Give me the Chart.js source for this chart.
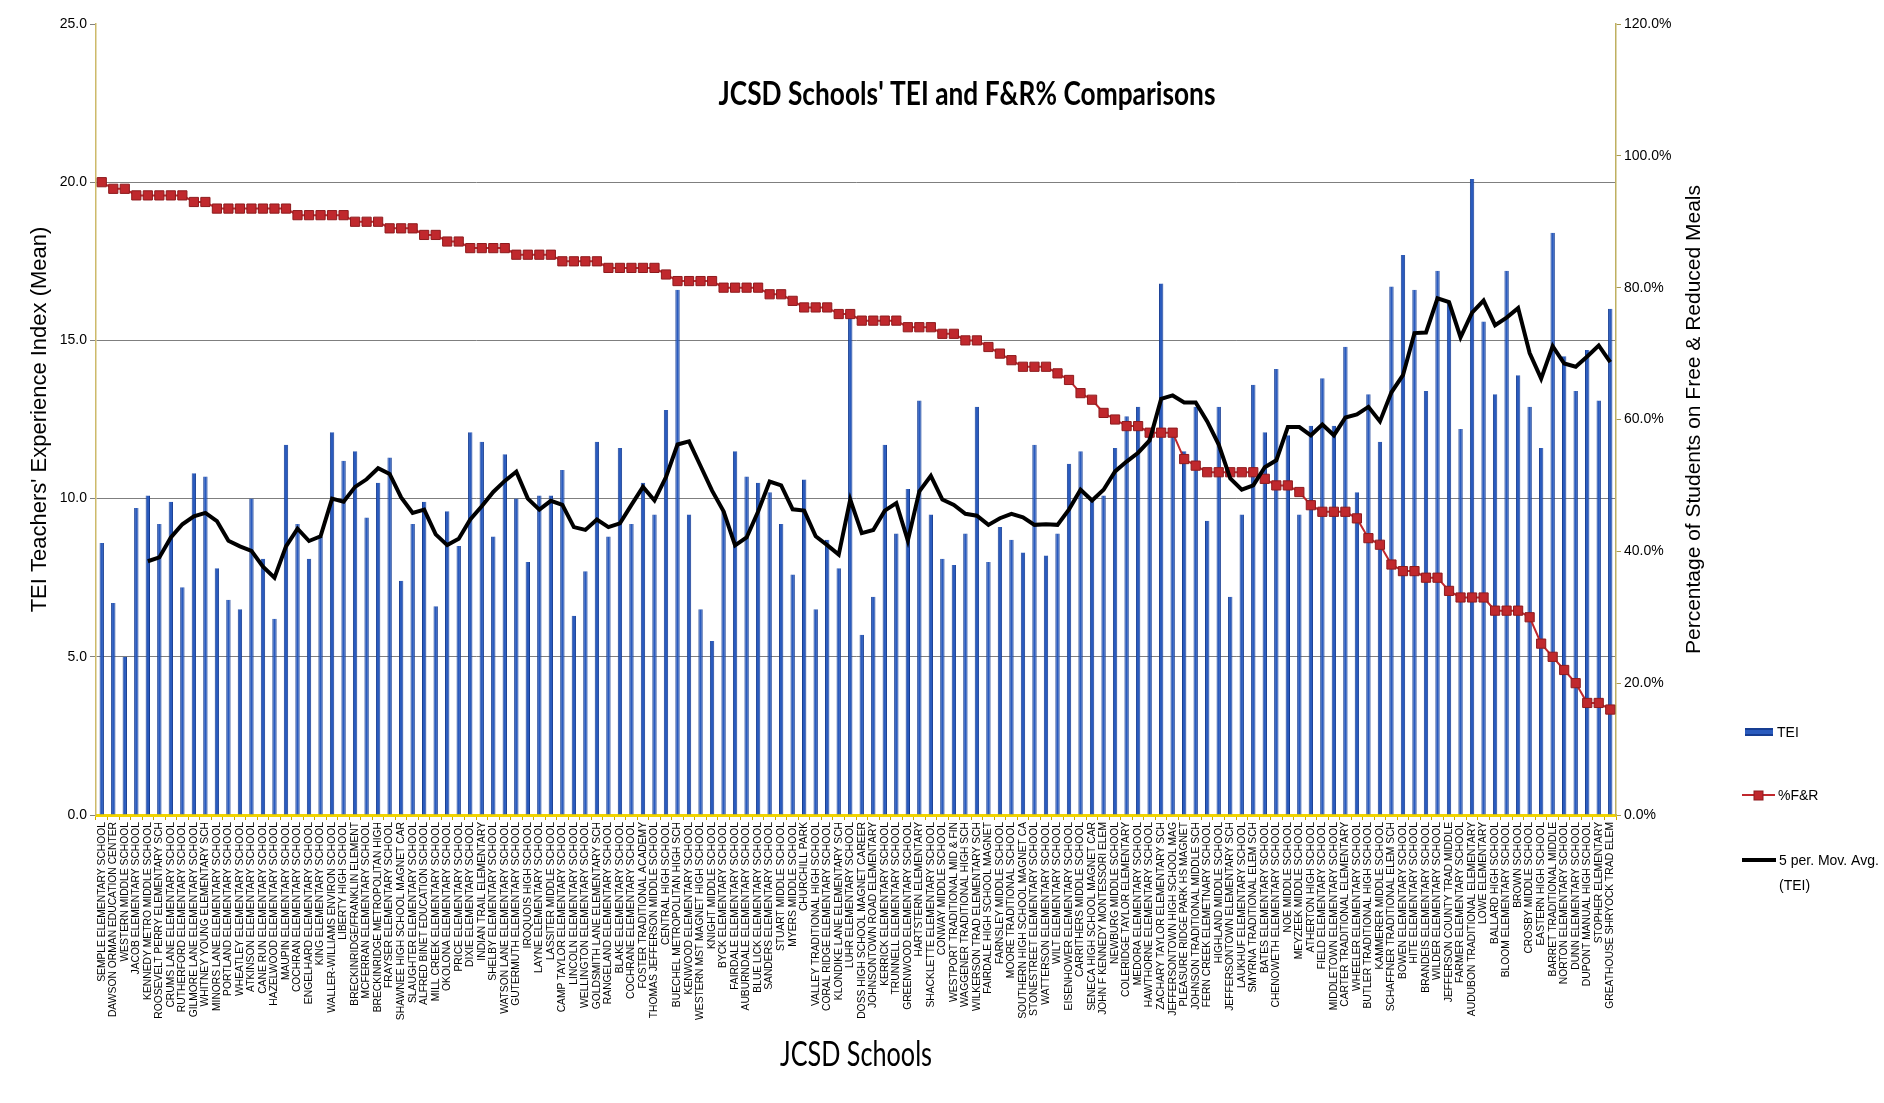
<!DOCTYPE html>
<html><head><meta charset="utf-8">
<script src="https://cdn.jsdelivr.net/npm/chart.js@4.4.1/dist/chart.umd.min.js"></script>
<style>html,body{margin:0;padding:0;background:#fff;}#c{display:block;}</style>
</head><body>
<canvas id="c" width="1884" height="1103" style="width:1884px;height:1103px"></canvas>
<script>
const chartTitle = "JCSD Schools' TEI and F&R% Comparisons";
const xAxisTitle = "JCSD Schools";
const leftAxisTitle = "TEI Teachers' Experience Index (Mean)";
const rightAxisTitle = "Percentage of Students on Free & Reduced Meals";
const seriesNames = ["TEI", "%F&R", "5 per. Mov. Avg.", "(TEI)"];

const schools = [
"SEMPLE ELEMENTARY SCHOOL","DAWSON ORMAN EDUCATION CENTER","WESTERN MIDDLE SCHOOL","JACOB ELEMENTARY SCHOOL",
"KENNEDY METRO MIDDLE SCHOOL","ROOSEVELT PERRY ELEMENTARY SCH","CRUMS LANE ELEMENTARY SCHOOL","RUTHERFORD ELEMENTARY SCHOOL",
"GILMORE LANE ELEMENTARY SCHOOL","WHITNEY YOUNG ELEMENTARY SCH","MINORS LANE ELEMENTARY SCHOOL","PORTLAND ELEMENTARY SCHOOL",
"WHEATLEY ELEMENTARY SCHOOL","ATKINSON ELEMENTARY SCHOOL","CANE RUN ELEMENTARY SCHOOL","HAZELWOOD ELEMENTARY SCHOOL",
"MAUPIN ELEMENTARY SCHOOL","COCHRAN ELEMENTARY SCHOOL","ENGELHARD ELEMENTARY SCHOOL","KING ELEMENTARY SCHOOL",
"WALLER-WILLIAMS ENVIRON SCHOOL","LIBERTY HIGH SCHOOL","BRECKINRIDGE/FRANKLIN ELEMENT","MCFERRAN ELEMENTARY SCHOOL",
"BRECKINRIDGE METROPOLITAN HIGH","FRAYSER ELEMENTARY SCHOOL","SHAWNEE HIGH SCHOOL MAGNET CAR","SLAUGHTER ELEMENTARY SCHOOL",
"ALFRED BINET EDUCATION SCHOOL","MILL CREEK ELEMENTARY SCHOOL","OKOLONA ELEMENTARY SCHOOL","PRICE ELEMENTARY SCHOOL",
"DIXIE ELEMENTARY SCHOOL","INDIAN TRAIL ELEMENTARY","SHELBY ELEMENTARY SCHOOL","WATSON LANE ELEMENTARY SCHOOL",
"GUTERMUTH ELEMENTARY SCHOOL","IROQUOIS HIGH SCHOOL","LAYNE ELEMENTARY SCHOOL","LASSITER MIDDLE SCHOOL",
"CAMP TAYLOR ELEMENTARY SCHOOL","LINCOLN ELEMENTARY SCHOOL","WELLINGTON ELEMENTARY SCHOOL","GOLDSMITH LANE ELEMENTARY SCH",
"RANGELAND ELEMENTARY SCHOOL","BLAKE ELEMENTARY SCHOOL","COCHRANE ELEMENTARY SCHOOL","FOSTER TRADITIONAL ACADEMY",
"THOMAS JEFFERSON MIDDLE SCHOOL","CENTRAL HIGH SCHOOL","BUECHEL METROPOLITAN HIGH SCH","KENWOOD ELEMENTARY SCHOOL",
"WESTERN MST MAGNET HIGH SCHOOL","KNIGHT MIDDLE SCHOOL","BYCK ELEMENTARY SCHOOL","FAIRDALE ELEMENTARY SCHOOL",
"AUBURNDALE ELEMENTARY SCHOOL","BLUE LICK ELEMENTARY SCHOOL","SANDERS ELEMENTARY SCHOOL","STUART MIDDLE SCHOOL",
"MYERS MIDDLE SCHOOL","CHURCHILL PARK","VALLEY TRADITIONAL HIGH SCHOOL","CORAL RIDGE ELEMENTARY SCHOOL",
"KLONDIKE LANE ELEMENTARY SCH","LUHR ELEMENTARY SCHOOL","DOSS HIGH SCHOOL MAGNET CAREER","JOHNSONTOWN ROAD ELEMENTARY",
"KERRICK ELEMENTARY SCHOOL","TRUNNELL ELEMENTARY SCHOOL","GREENWOOD ELEMENTARY SCHOOL","HARTSTERN ELEMENTARY",
"SHACKLETTE ELEMENTARY SCHOOL","CONWAY MIDDLE SCHOOL","WESTPORT TRADITIONAL MID & FIN","WAGGENER TRADITIONAL HIGH SCH",
"WILKERSON TRAD ELEMENTARY SCH","FAIRDALE HIGH SCHOOL MAGNET","FARNSLEY MIDDLE SCHOOL","MOORE TRADITIONAL SCHOOL",
"SOUTHERN HIGH SCHOOL MAGNET CA","STONESTREET ELEMENTARY SCHOOL","WATTERSON ELEMENTARY SCHOOL","WILT ELEMENTARY SCHOOL",
"EISENHOWER ELEMENTARY SCHOOL","CARRITHERS MIDDLE SCHOOL","SENECA HIGH SCHOOL MAGNET CAR","JOHN F KENNEDY MONTESSORI ELEM",
"NEWBURG MIDDLE SCHOOL","COLERIDGE TAYLOR ELEMENTARY","MEDORA ELEMENTARY SCHOOL","HAWTHORNE ELEMENTARY SCHOOL",
"ZACHARY TAYLOR ELEMENTARY SCH","JEFFERSONTOWN HIGH SCHOOL MAG","PLEASURE RIDGE PARK HS MAGNET","JOHNSON TRADITIONAL MIDDLE SCH",
"FERN CREEK ELEMETNARY SCHOOL","HIGHLAND MIDDLE SCHOOL","JEFFERSONTOWN ELEMENTARY SCH","LAUKHUF ELEMENTARY SCHOOL",
"SMYRNA TRADITIONAL ELEM SCH","BATES ELEMENTARY SCHOOL","CHENOWETH ELEMENTARY SCHOOL","NOE MIDDLE SCHOOL",
"MEYZEEK MIDDLE SCHOOL","ATHERTON HIGH SCHOOL","FIELD ELEMENTARY SCHOOL","MIDDLETOWN ELEMENTARY SCHOOL",
"CARTER TRADITIONAL ELEMENTARY","WHEELER ELEMENTARY SCHOOL","BUTLER TRADITIONAL HIGH SCHOOL","KAMMERER MIDDLE SCHOOL",
"SCHAFFNER TRADITIONAL ELEM SCH","BOWEN ELEMENTARY SCHOOL","HITE ELEMENTARY SCHOOL","BRANDEIS ELEMENTARY SCHOOL",
"WILDER ELEMENTARY SCHOOL","JEFFERSON COUNTY TRAD MIDDLE","FARMER ELEMENTARY SCHOOL","AUDUBON TRADITIONAL ELEMENTARY",
"LOWE ELEMENTARY","BALLARD HIGH SCHOOL","BLOOM ELEMENTARY SCHOOL","BROWN SCHOOL",
"CROSBY MIDDLE SCHOOL","EASTERN HIGH SCHOOL","BARRET TRADITIONAL MIDDLE","NORTON ELEMENTARY SCHOOL",
"DUNN ELEMENTARY SCHOOL","DUPONT MANUAL HIGH SCHOOL","STOPHER ELEMENTARY","GREATHOUSE SHRYOCK TRAD ELEM"
];

const teiValues = [
8.6,6.7,5.0,9.7,10.1,9.2,9.9,7.2,10.8,10.7,7.8,6.8,6.5,10.0,8.1,6.2,11.7,9.2,8.1,8.8,12.1,11.2,
11.5,9.4,10.5,11.3,7.4,9.2,9.9,6.6,9.6,8.5,12.1,11.8,8.8,11.4,10.0,8.0,10.1,10.1,10.9,6.3,7.7,11.8,
8.8,11.6,9.2,10.5,9.5,12.8,16.6,9.5,6.5,5.5,9.6,11.5,10.7,10.5,10.2,9.2,7.6,10.6,6.5,8.7,7.8,15.9,
5.7,6.9,11.7,8.9,10.3,13.1,9.5,8.1,7.9,8.9,12.9,8.0,9.1,8.7,8.3,11.7,8.2,8.9,11.1,11.5,10.0,
10.1,11.6,12.6,12.9,12.0,16.8,12.0,11.5,12.9,9.3,12.9,6.9,9.5,13.6,12.1,14.1,12.0,9.5,12.3,13.8,12.3,14.8,
10.2,13.3,11.8,16.7,17.7,16.6,13.4,17.2,16.2,12.2,20.1,15.6,13.3,17.2,13.9,12.9,11.6,18.4,14.5,13.4,14.7,13.1,16.0
];

const frPercent = [
96,95,95,94,94,94,94,94,93,93,92,92,92,92,92,92,92,91,91,91,91,91,
90,90,90,89,89,89,88,88,87,87,86,86,86,86,85,85,85,85,84,84,84,84,
83,83,83,83,83,82,81,81,81,81,80,80,80,80,79,79,78,77,77,77,76,76,
75,75,75,75,74,74,74,73,73,72,72,71,70,69,68,68,68,67,66,64,63,
61,60,59,59,58,58,58,54,53,52,52,52,52,52,51,50,50,49,47,46,46,46,
45,42,41,38,37,37,36,36,34,33,33,33,31,31,31,30,26,24,22,20,17,17,16
];

const movingAvgTEI = [
null,null,null,null,8.02,8.14,8.77,9.19,9.44,9.55,9.29,8.67,8.49,8.35,7.85,7.50,8.49,9.05,8.66,8.81,10.0,9.9,
10.37,10.61,10.96,10.78,10.04,9.55,9.65,8.87,8.53,8.73,9.34,9.76,10.21,10.56,10.85,10.0,9.65,9.93,9.8,9.1,9.01,9.34,
9.1,9.22,9.8,10.37,9.94,10.68,11.71,11.81,11.03,10.25,9.6,8.52,8.77,9.59,10.54,10.42,9.66,9.62,8.81,8.53,8.23,9.97,
8.91,9.01,9.62,9.86,8.67,10.23,10.72,9.97,9.8,9.52,9.46,9.17,9.38,9.52,9.41,9.17,9.19,9.17,9.66,10.28,9.94,
10.28,10.86,11.17,11.45,11.84,13.15,13.26,13.04,13.04,12.44,11.71,10.64,10.28,10.42,10.99,11.21,12.26,12.26,12.0,12.34,12.0,12.56,
12.66,12.9,12.44,13.36,13.9,15.23,15.25,16.33,16.21,15.1,15.88,16.26,15.48,15.72,16.02,14.6,13.79,14.82,14.27,14.17,14.49,14.84,14.31
];

const leftAxisRange = [0, 25, 5];
const rightAxisRange = [0, 120, 20];

const BLUE = '#2A5BBE', BLUE_EDGE = '#163D92', RED = '#C0282D', RED_EDGE = '#8E1B1E';

function scaledText(ctx, text, x, y, font, targetW, rot) {
  ctx.save();
  ctx.font = font;
  const w = ctx.measureText(text).width;
  ctx.translate(x, y);
  if (rot) ctx.rotate(rot);
  if (targetW) ctx.scale(targetW / w, 1);
  ctx.textAlign = 'center';
  ctx.textBaseline = 'middle';
  ctx.fillStyle = '#000';
  ctx.fillText(text, 0, 0);
  ctx.restore();
}

const overlay = {
  id: 'overlay',
  afterDraw(chart) {
    const ctx = chart.ctx, a = chart.chartArea;
    // chart title inside plot
    scaledText(ctx, chartTitle, a.left + 0.573 * (a.right - a.left), a.top + 71, 'bold 32px Lato', 497);
    // x axis title
    scaledText(ctx, xAxisTitle, (a.left + a.right) / 2, 1055, '35px Lato', 152);
    // right axis title (reads bottom to top)
    scaledText(ctx, rightAxisTitle, 1694, (a.top + a.bottom) / 2, '21px "Liberation Sans"', 469, -Math.PI / 2);
    // legend
    ctx.save();
    ctx.font = '14px "Liberation Sans"';
    ctx.textBaseline = 'middle';
    ctx.textAlign = 'left';
    ctx.fillStyle = '#000';
    ctx.fillStyle = BLUE_EDGE;
    ctx.fillRect(1745, 728, 28, 8);
    ctx.fillStyle = BLUE;
    ctx.fillRect(1745, 730, 28, 4);
    ctx.fillStyle = '#000';
    ctx.fillText(seriesNames[0], 1777, 733);
    ctx.strokeStyle = RED; ctx.lineWidth = 2;
    ctx.beginPath(); ctx.moveTo(1742, 795); ctx.lineTo(1775, 795); ctx.stroke();
    ctx.fillStyle = RED; ctx.fillRect(1754, 791, 9, 9);
    ctx.strokeStyle = RED_EDGE; ctx.lineWidth = 1; ctx.strokeRect(1754, 791, 9, 9);
    ctx.fillStyle = '#000';
    ctx.fillText(seriesNames[1], 1778, 796);
    ctx.strokeStyle = '#000'; ctx.lineWidth = 4;
    ctx.beginPath(); ctx.moveTo(1742, 860); ctx.lineTo(1776, 860); ctx.stroke();
    ctx.fillText(seriesNames[2], 1779, 861);
    ctx.fillText(seriesNames[3], 1779, 886);
    ctx.restore();
  }
};

new Chart(document.getElementById('c'), {
  data: {
    labels: schools,
    datasets: [
      { type: 'line', label: '5 per. Mov. Avg. (TEI)', data: movingAvgTEI, yAxisID: 'y',
        borderColor: '#000', borderWidth: 4, pointRadius: 0, tension: 0, order: 1, spanGaps: false },
      { type: 'line', label: '%F&R', data: frPercent, yAxisID: 'y1',
        borderColor: RED, borderWidth: 2, pointStyle: 'rect', pointRadius: 6.5,
        pointBackgroundColor: RED, pointBorderColor: RED_EDGE, pointBorderWidth: 1, tension: 0, order: 2 },
      { type: 'bar', label: 'TEI', data: teiValues, yAxisID: 'y',
        backgroundColor: BLUE, borderColor: BLUE_EDGE, borderWidth: {left: 1, right: 1, top: 0, bottom: 0},
        categoryPercentage: 1, barPercentage: 0.38, order: 3 }
    ]
  },
  options: {
    responsive: false, animation: false, devicePixelRatio: 1,
    layout: { padding: { left: 23, top: 24, right: 178, bottom: 0 } },
    plugins: { legend: { display: false }, tooltip: { enabled: false }, title: { display: false } },
    scales: {
      x: {
        type: 'category', offset: true,
        afterFit(s) { s.height = 288; },
        ticks: { autoSkip: false, minRotation: 90, maxRotation: 90, padding: 2,
          color: '#000', font: { family: '"Liberation Sans"', size: 10.3 } },
        grid: { drawOnChartArea: false, drawTicks: true, tickLength: 5, color: '#C9A800', offset: true },
        border: { display: true, color: '#F2D400', width: 3 }
      },
      y: {
        position: 'left', min: leftAxisRange[0], max: leftAxisRange[1],
        afterFit(s) { s.width = 73; },
        ticks: { stepSize: leftAxisRange[2], color: '#000', padding: 3,
          font: { family: '"Liberation Sans"', size: 14 }, callback: v => Number(v).toFixed(1) },
        grid: { drawTicks: true, tickLength: 6, tickColor: '#808080',
          color: c => (c.tick.value === 0 || c.tick.value === 25) ? 'rgba(0,0,0,0)' : '#7F7F7F', lineWidth: 1 },
        border: { display: true, color: '#CDBA6A', width: 1.5 },
        title: { display: true, text: leftAxisTitle, color: '#000',
          font: { family: '"Liberation Sans"', size: 22 }, padding: { top: 4, bottom: 4 } }
      },
      y1: {
        position: 'right', min: rightAxisRange[0], max: rightAxisRange[1],
        afterFit(s) { s.width = 90; },
        ticks: { stepSize: rightAxisRange[2], color: '#000', padding: 3,
          font: { family: '"Liberation Sans"', size: 14 }, callback: v => Number(v).toFixed(1) + '%' },
        grid: { drawOnChartArea: false, drawTicks: true, tickLength: 5, color: '#A89A50' },
        border: { display: true, color: '#BFB060', width: 1.5 }
      }
    }
  },
  plugins: [overlay]
});
</script>
</body></html>
